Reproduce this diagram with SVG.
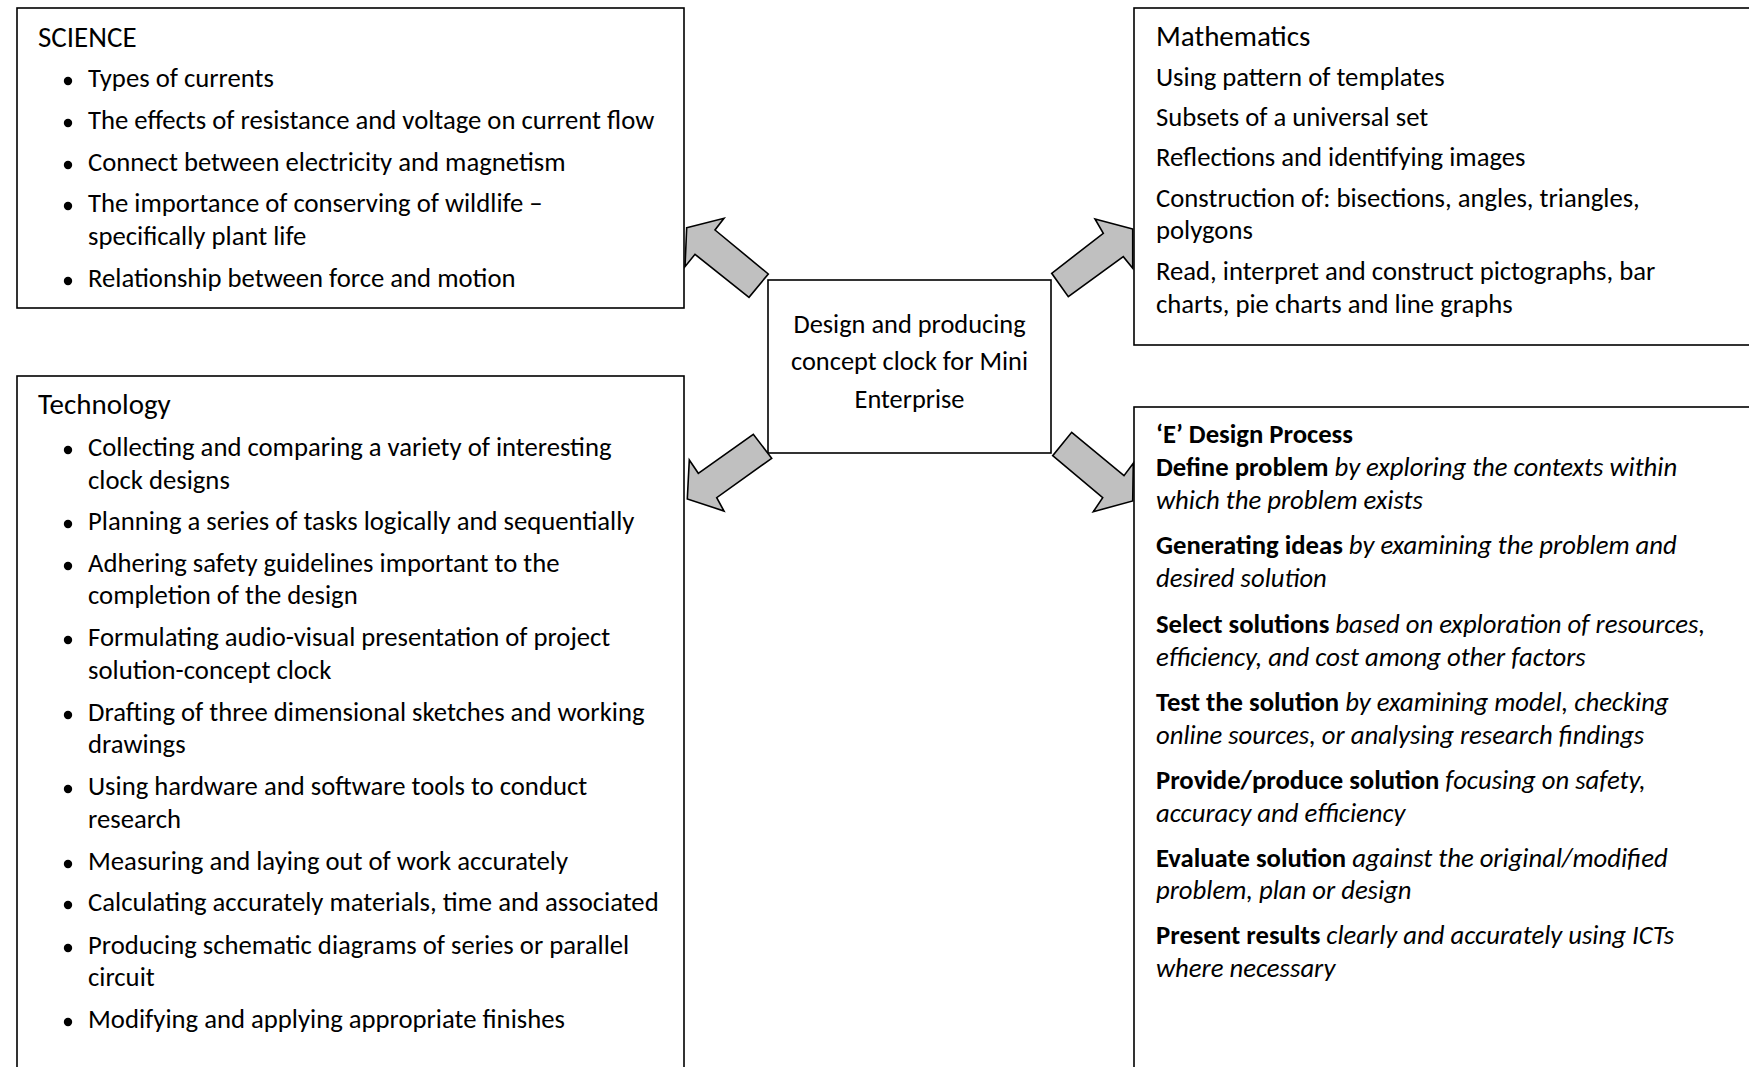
<svg xmlns="http://www.w3.org/2000/svg" width="1749" height="1067" viewBox="0 0 1749 1067">
  <style>
    .box { fill: #ffffff; stroke: #000000; stroke-width: 1.6; }
    .arrow { fill: #c0c0c0; stroke: #000000; stroke-width: 1.6; stroke-linejoin: miter; }
    text { font-family: Calibri, Carlito, "Liberation Sans", Arial, sans-serif; fill: #000000; }
    .head { font-size: 29px; }
    .body { font-size: 26.7px; }
    .centre { font-size: 26.4px; text-anchor: middle; }
    .b { font-weight: bold; }
    .i { font-style: italic; }
    .dot { fill: #000000; }
  </style>
  <rect width="1749" height="1067" fill="#ffffff"/>

  <!-- Science topics -->
  <g id="science">
    <rect class="box" x="17" y="8" width="667" height="300"/>
    <text class="head" x="38" y="47">SCIENCE</text>
    <circle class="dot" cx="68" cy="81" r="4.2"/>
    <text class="body" x="88" y="87">Types of currents</text>
    <circle class="dot" cx="68" cy="123" r="4.2"/>
    <text class="body" x="88" y="129">The effects of resistance and voltage on current flow</text>
    <circle class="dot" cx="68" cy="165" r="4.2"/>
    <text class="body" x="88" y="171">Connect between electricity and magnetism</text>
    <circle class="dot" cx="68" cy="206" r="4.2"/>
    <text class="body" x="88" y="212">The importance of conserving of wildlife –</text>
    <text class="body" x="88" y="245">specifically plant life</text>
    <circle class="dot" cx="68" cy="281" r="4.2"/>
    <text class="body" x="88" y="287">Relationship between force and motion</text>
  </g>

  <!-- Technology topics -->
  <g id="technology">
    <rect class="box" x="17" y="376" width="667" height="720"/>
    <text class="head" x="38" y="414">Technology</text>
    <circle class="dot" cx="68" cy="450" r="4.2"/>
    <text class="body" x="88" y="456">Collecting and comparing a variety of interesting</text>
    <text class="body" x="88" y="489">clock designs</text>
    <circle class="dot" cx="68" cy="524" r="4.2"/>
    <text class="body" x="88" y="530">Planning a series of tasks logically and sequentially</text>
    <circle class="dot" cx="68" cy="566" r="4.2"/>
    <text class="body" x="88" y="572">Adhering safety guidelines important to the</text>
    <text class="body" x="88" y="604">completion of the design</text>
    <circle class="dot" cx="68" cy="640" r="4.2"/>
    <text class="body" x="88" y="646">Formulating audio-visual presentation of project</text>
    <text class="body" x="88" y="679">solution-concept clock</text>
    <circle class="dot" cx="68" cy="715" r="4.2"/>
    <text class="body" x="88" y="721">Drafting of three dimensional sketches and working</text>
    <text class="body" x="88" y="753">drawings</text>
    <circle class="dot" cx="68" cy="789" r="4.2"/>
    <text class="body" x="88" y="795">Using hardware and software tools to conduct</text>
    <text class="body" x="88" y="828">research</text>
    <circle class="dot" cx="68" cy="864" r="4.2"/>
    <text class="body" x="88" y="870">Measuring and laying out of work accurately</text>
    <circle class="dot" cx="68" cy="905" r="4.2"/>
    <text class="body" x="88" y="911">Calculating accurately materials, time and associated</text>
    <circle class="dot" cx="68" cy="948" r="4.2"/>
    <text class="body" x="88" y="954">Producing schematic diagrams of series or parallel</text>
    <text class="body" x="88" y="986">circuit</text>
    <circle class="dot" cx="68" cy="1022" r="4.2"/>
    <text class="body" x="88" y="1028">Modifying and applying appropriate finishes</text>
  </g>

  <!-- Central project -->
  <g id="project">
    <rect class="box" x="768" y="280" width="283" height="173"/>
    <text class="centre" x="909.5" y="332.5">Design and producing</text>
    <text class="centre" x="909.5" y="370">concept clock for Mini</text>
    <text class="centre" x="909.5" y="407.5">Enterprise</text>
  </g>

  <!-- Mathematics topics -->
  <g id="mathematics">
    <rect class="box" x="1134" y="8" width="700" height="337"/>
    <text class="head" x="1156" y="46">Mathematics</text>
    <text class="body" x="1156" y="86">Using pattern of templates</text>
    <text class="body" x="1156" y="126">Subsets of a universal set</text>
    <text class="body" x="1156" y="166">Reflections and identifying images</text>
    <text class="body" x="1156" y="207">Construction of: bisections, angles, triangles,</text>
    <text class="body" x="1156" y="239">polygons</text>
    <text class="body" x="1156" y="280">Read, interpret and construct pictographs, bar</text>
    <text class="body" x="1156" y="313">charts, pie charts and line graphs</text>
  </g>

  <!-- Engineering design process -->
  <g id="design-process">
    <rect class="box" x="1134" y="407" width="700" height="700"/>
    <text class="body b" x="1156" y="443">‘E’ Design Process</text>
    <text class="body" x="1156" y="476"><tspan class="b">Define problem</tspan> <tspan class="i">by exploring the contexts within</tspan></text>
    <text class="body i" x="1156" y="509">which the problem exists</text>
    <text class="body" x="1156" y="554"><tspan class="b">Generating ideas</tspan> <tspan class="i">by examining the problem and</tspan></text>
    <text class="body i" x="1156" y="587">desired solution</text>
    <text class="body" x="1156" y="633"><tspan class="b">Select solutions</tspan> <tspan class="i">based on exploration of resources,</tspan></text>
    <text class="body i" x="1156" y="666">efficiency, and cost among other factors</text>
    <text class="body" x="1156" y="711"><tspan class="b">Test the solution</tspan> <tspan class="i">by examining model, checking</tspan></text>
    <text class="body i" x="1156" y="744">online sources, or analysing research findings</text>
    <text class="body" x="1156" y="789"><tspan class="b">Provide/produce solution</tspan> <tspan class="i">focusing on safety,</tspan></text>
    <text class="body i" x="1156" y="822">accuracy and efficiency</text>
    <text class="body" x="1156" y="867"><tspan class="b">Evaluate solution</tspan> <tspan class="i">against the original/modified</tspan></text>
    <text class="body i" x="1156" y="899">problem, plan or design</text>
    <text class="body" x="1156" y="944"><tspan class="b">Present results</tspan> <tspan class="i">clearly and accurately using ICTs</tspan></text>
    <text class="body i" x="1156" y="977">where necessary</text>
  </g>

  <!-- Block arrows from the project to each subject -->
  <g id="connectors">
    <polygon class="arrow" points="686.7,227.7 724,218.3 715,230 768.3,274 749,297.3 695,254.3 685,266.7"/>
    <polygon class="arrow" points="1132.7,229 1095,219 1103.3,233.3 1051.7,273.3 1068.3,296.7 1123.3,256.7 1132.7,268.3"/>
    <polygon class="arrow" points="687.3,499 689.3,460 698.3,473.3 753.3,434.3 771.7,458.3 716.7,497.7 724,511"/>
    <polygon class="arrow" points="1132.7,501 1133.3,463.3 1124,475.7 1071.7,432.3 1052.7,455.7 1102.7,497.7 1093.3,511.7"/>
  </g>
</svg>
